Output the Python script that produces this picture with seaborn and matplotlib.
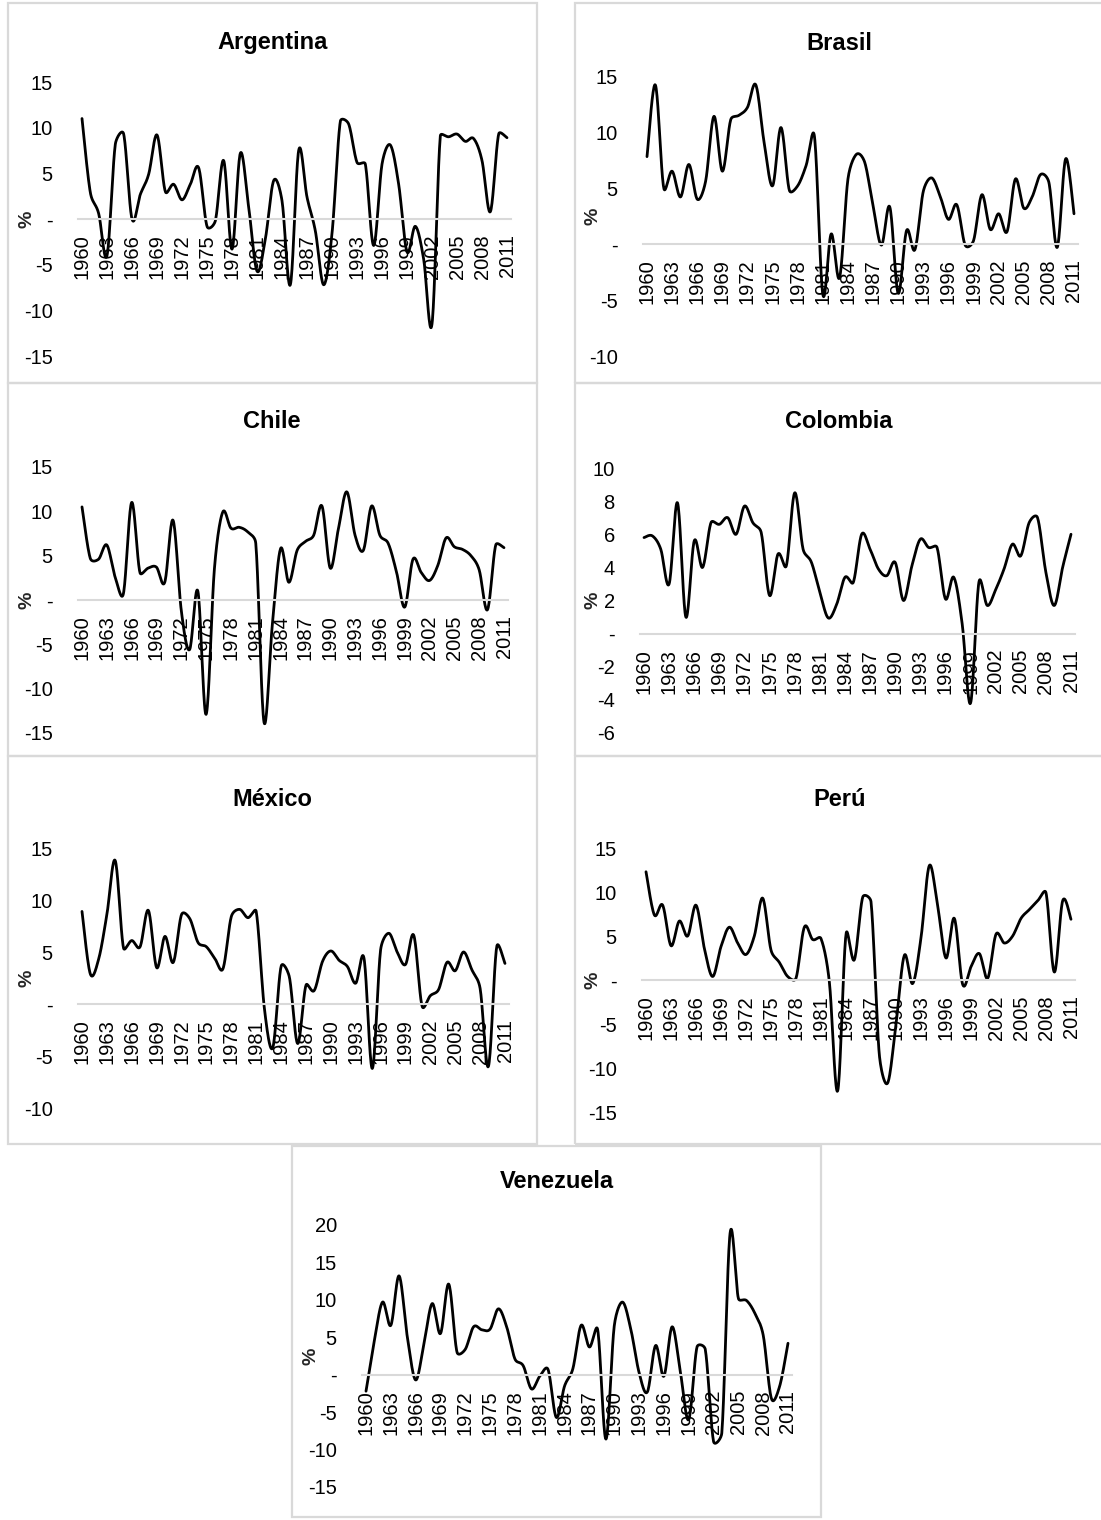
import numpy as np
import matplotlib
matplotlib.use("Agg")
import matplotlib.pyplot as plt
from matplotlib.patches import Rectangle
from matplotlib.ticker import FixedLocator, FuncFormatter
import seaborn as sns

# annual GDP growth, %, 1960-2011
YEARS = list(range(1960, 2012))
YEAR_TICKS = list(range(1960, 2012, 3))

argentina = [11.0, 2.9, 0.6, -4.0, 8.2, 9.3, 0.0, 2.7, 4.9, 9.2,
             3.0, 3.8, 2.1, 3.8, 5.6, -0.8, -0.2, 6.4, -3.3, 7.2,
             1.3, -5.7, -2.2, 4.2, 2.0, -7.2, 7.5, 2.4, -1.3, -7.2,
             -1.6, 10.7, 10.4, 6.2, 6.0, -2.9, 6.0, 8.1, 3.8, -3.6,
             -0.8, -4.4, -11.5, 9.1, 9.0, 9.3, 8.5, 8.8, 6.4, 0.8,
             9.3, 8.9]
brasil = [7.8, 14.2, 5.0, 6.5, 4.2, 7.1, 4.0, 5.6, 11.4, 6.5,
          11.1, 11.5, 12.2, 14.2, 9.0, 5.2, 10.4, 4.8, 5.2, 7.0,
          9.6, -4.5, 0.9, -3.0, 5.8, 8.0, 7.3, 3.4, -0.1, 3.3,
          -4.4, 1.2, -0.5, 4.7, 5.9, 4.3, 2.2, 3.5, -0.1, 0.3,
          4.4, 1.3, 2.7, 1.1, 5.8, 3.2, 4.2, 6.2, 5.5, -0.3,
          7.6, 2.7]
chile = [10.5, 4.7, 4.6, 6.2, 2.6, 0.7, 11.0, 3.1, 3.6, 3.7,
         2.0, 9.0, -1.2, -5.6, 1.0, -12.9, 3.5, 9.9, 8.1, 8.2,
         7.7, 6.4, -13.8, -2.8, 5.8, 2.0, 5.6, 6.6, 7.3, 10.6,
         3.6, 8.1, 12.2, 7.3, 5.6, 10.6, 7.3, 6.4, 3.2, -0.8,
         4.6, 3.1, 2.2, 3.9, 7.0, 6.0, 5.7, 5.0, 3.4, -1.1,
         6.2, 5.9]
colombia = [5.8, 5.9, 5.1, 3.0, 7.9, 1.0, 5.6, 4.0, 6.7, 6.6,
            7.0, 6.0, 7.7, 6.7, 6.1, 2.3, 4.8, 4.1, 8.5, 5.1,
            4.3, 2.5, 0.95, 1.75, 3.4, 3.1, 6.0, 5.1, 3.9, 3.5,
            4.3, 2.0, 4.1, 5.7, 5.2, 5.2, 2.1, 3.4, 0.6, -4.2,
            3.1, 1.7, 2.65, 3.9, 5.4, 4.7, 6.7, 7.0, 3.7, 1.7,
            4.0, 6.0]
mexico = [8.9, 2.9, 4.3, 8.6, 13.8, 5.4, 6.1, 5.5, 9.0, 3.5,
          6.5, 4.0, 8.6, 8.2, 5.9, 5.5, 4.4, 3.4, 8.4, 9.1,
          8.3, 8.9, -0.5, -4.2, 3.6, 2.6, -3.8, 1.8, 1.3, 4.1,
          5.1, 4.2, 3.6, 2.0, 4.4, -6.2, 5.2, 6.8, 5.0, 3.8,
          6.6, -0.2, 0.8, 1.4, 4.0, 3.2, 5.0, 3.3, 1.5, -6.0,
          5.5, 3.9]
peru = [12.3, 7.4, 8.5, 3.9, 6.7, 5.0, 8.5, 3.6, 0.4, 3.8,
        6.0, 4.2, 2.9, 5.0, 9.3, 3.4, 2.0, 0.4, 0.2, 6.0,
        4.6, 4.7, -0.2, -12.6, 5.2, 2.3, 9.4, 8.9, -8.5, -11.7,
        -5.0, 2.8, -0.4, 4.8, 13.0, 8.4, 2.5, 7.0, -0.5, 1.5,
        3.0, 0.2, 5.2, 4.2, 5.0, 7.0, 8.0, 9.0, 9.9, 0.9,
        9.0, 6.9]
venezuela = [-2.2, 4.5, 9.7, 6.6, 13.2, 5.0, -0.7, 4.1, 9.5, 5.5,
             12.1, 3.0, 3.4, 6.4, 6.0, 6.1, 8.8, 6.4, 2.1, 1.2,
             -1.9, -0.2, 0.7, -5.7, -1.5, 0.8, 6.6, 3.7, 6.0, -8.6,
             6.5, 9.7, 6.1, 0.3, -2.3, 3.9, -0.2, 6.4, 0.3, -6.0,
             3.7, 3.4, -8.9, -7.8, 18.9, 10.2, 9.9, 8.2, 5.3, -3.2,
             -1.5, 4.2]

W, H, DPI = 1101, 1520, 100
GREY = "#d9d9d9"

# name, values, frame (x0, y0, x1, y1 px), first/last point x, y px of ymax / ymin,
# (ymin, ymax), step, title y
PANELS = [
    ("Argentina", argentina, (7.5, 3, 537, 383), 82, 507, 82, 356, (-15, 15), 5, 43),
    ("Brasil", brasil, (574.5, 3, 1104, 383), 647, 1074, 76, 356, (-10, 15), 5, 43),
    ("Chile", chile, (7.5, 383, 537, 756), 82, 504, 467, 733, (-15, 15), 5, 421),
    ("Colombia", colombia, (574.5, 383, 1104, 756), 644, 1071, 468, 733, (-6, 10), 2, 421),
    ("México", mexico, (7.5, 756, 537, 1144), 82, 505, 848, 1108, (-10, 15), 5, 800),
    ("Perú", peru, (574.5, 756, 1104, 1144), 646, 1071, 848, 1112, (-15, 15), 5, 800),
    ("Venezuela", venezuela, (292, 1146, 821, 1517), 366, 788, 1225, 1487, (-15, 20), 5, 1181),
]


def smooth(xs, ys, sx, sy, n=20):
    # Excel-like smoothed line: bezier per segment, handles capped at half the chord
    # (worked out in pixel space, sx / sy = pixels per unit)
    p = np.column_stack([np.asarray(xs, float) * sx, np.asarray(ys, float) * sy])
    p = np.vstack([p[0], p, p[-1]])
    t = np.linspace(0, 1, n, endpoint=False)[:, None]
    out = []
    for i in range(1, len(p) - 2):
        p0, p1, p2, p3 = p[i - 1], p[i], p[i + 1], p[i + 2]
        half = np.linalg.norm(p2 - p1) / 2
        a1 = (p2 - p0) / 6
        a2 = (p3 - p1) / 6
        if np.linalg.norm(a1) > half:
            a1 = a1 * half / np.linalg.norm(a1)
        if np.linalg.norm(a2) > half:
            a2 = a2 * half / np.linalg.norm(a2)
        c1, c2 = p1 + a1, p2 - a2
        out.append((1 - t) ** 3 * p1 + 3 * (1 - t) ** 2 * t * c1 + 3 * (1 - t) * t ** 2 * c2 + t ** 3 * p2)
    out.append(p[-2][None, :])
    arr = np.vstack(out)
    return arr[:, 0] / sx, arr[:, 1] / sy


def zero_dash(v, pos):
    return "-" if abs(v) < 1e-9 else f"{v:g}"


sns.set_theme(style="white")
plt.rcParams["font.family"] = ["Liberation Sans", "DejaVu Sans"]

fig = plt.figure(figsize=(W / DPI, H / DPI), dpi=DPI)
fig.patch.set_facecolor("white")

for name, vals, frame, x_first, x_last, y_top, y_bot, (lo, hi), step, title_y in PANELS:
    x0, y0, x1, y1 = frame
    fig.add_artist(Rectangle((x0 / W, 1 - y1 / H), (x1 - x0) / W, (y1 - y0) / H,
                             transform=fig.transFigure, fill=False, edgecolor=GREY, lw=1.6))
    fig.text((x0 + x1) / 2 / W, 1 - title_y / H, name, ha="center", va="center",
             fontsize=17, fontweight="bold", color="black")

    sp = (x_last - x_first) / (len(YEARS) - 1)
    left, right = x_first - sp / 2, x_last + sp / 2
    ax = fig.add_axes([left / W, 1 - y_bot / H, (right - left) / W, (y_bot - y_top) / H])
    ax.set_facecolor("none")

    xs, ys = smooth(YEARS, vals, sp, (y_bot - y_top) / (hi - lo))
    sns.lineplot(x=xs, y=ys, ax=ax, color="black", linewidth=2.0, estimator=None, sort=False)

    ax.set_xlim(1959.5, 2011.5)
    ax.set_ylim(lo, hi)
    ax.xaxis.set_major_locator(FixedLocator(YEAR_TICKS))
    ax.yaxis.set_major_locator(FixedLocator(np.arange(lo, hi + step / 2, step)))
    ax.yaxis.set_major_formatter(FuncFormatter(zero_dash))
    for s in ("left", "top", "right"):
        ax.spines[s].set_visible(False)
    ax.spines["bottom"].set_position(("data", 0))
    ax.spines["bottom"].set_color(GREY)
    ax.spines["bottom"].set_linewidth(1.5)
    ax.tick_params(axis="both", length=0, labelsize=14.5, colors="black")
    ax.tick_params(axis="x", rotation=90, pad=11)
    ax.tick_params(axis="y", pad=18)
    ax.set_xlabel("")
    ax.set_ylabel("")
    ax.grid(False)

    fig.text((x0 + 19) / W, 1 - (y_top + y_bot) / 2 / H, "%", rotation=90,
             ha="center", va="center", fontsize=14, fontweight="bold")

fig.savefig("out.png", dpi=DPI, facecolor="white")
